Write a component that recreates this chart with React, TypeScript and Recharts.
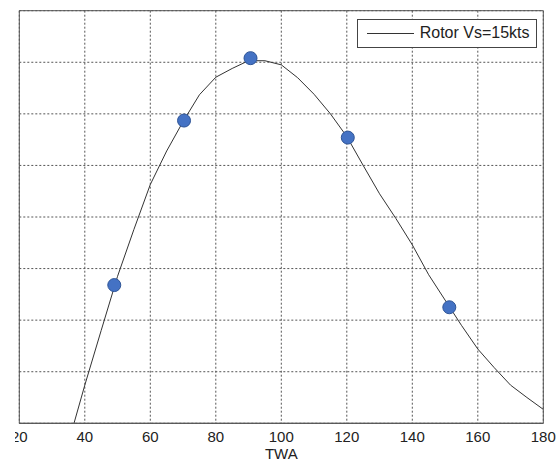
import React from 'react';
import { ComposedChart, Line, Scatter, XAxis, YAxis, CartesianGrid, ReferenceArea } from 'recharts';

// Curve (TWA in degrees, value in grid units)
const curveTWA = [36.7, 40, 45, 50, 55, 60, 65, 70, 75, 80, 85, 90, 95, 100, 105, 110, 115, 120, 125, 130, 135, 140, 145, 150, 155, 160, 165, 170, 175, 180];
const curveValue = [0, 0.74, 1.8, 2.85, 3.76, 4.63, 5.28, 5.85, 6.37, 6.71, 6.88, 7.03, 7.03, 6.95, 6.7, 6.38, 6.0, 5.56, 5.0, 4.45, 3.97, 3.46, 2.88, 2.39, 1.9, 1.44, 1.08, 0.74, 0.5, 0.27];

// Marker points
const markerTWA = [49, 70.3, 90.6, 120.3, 151.3];
const markerValue = [2.68, 5.87, 7.08, 5.54, 2.25];

const xTicks = [20, 40, 60, 80, 100, 120, 140, 160, 180];
const yTicks = [0, 1, 2, 3, 4, 5, 6, 7, 8];

const legendLabel = 'Rotor Vs=15kts';
const xLabel = 'TWA';

const curveData = curveTWA.map((x, i) => ({ x, y: curveValue[i] }));
const markerData = markerTWA.map((x, i) => ({ x, y: markerValue[i] }));

const FONT = '"Liberation Sans", Arial, sans-serif';
const BORDER = '#555';

const MarkerShape = (props: any) => (
  <circle cx={props.cx} cy={props.cy} r={6.5} fill="#4472C4" stroke="#2F5597" strokeWidth={1} />
);

const EmptyTick = () => <g />;

export default function App() {
  return (
    <div
      style={{
        position: 'absolute',
        left: 15,
        top: 0,
        width: 545,
        height: 462,
        overflow: 'hidden',
        fontFamily: FONT,
        background: '#fff',
      }}
    >
      <ComposedChart
        width={545}
        height={462}
        margin={{ top: 10.7, right: 16.7, left: 4.3, bottom: 0 }}
        style={{ fontFamily: FONT }}
      >
        <CartesianGrid stroke="#555" strokeDasharray="2 2" />
        <XAxis
          dataKey="x"
          type="number"
          domain={[20, 180]}
          ticks={xTicks}
          interval={0}
          allowDataOverflow
          height={38.7}
          tickLine={false}
          tickSize={6}
          tickMargin={2}
          axisLine={{ stroke: BORDER }}
          tick={{ fill: '#222', fontSize: 15, fontFamily: FONT }}
          label={{ value: xLabel, position: 'insideBottom', offset: 3, fill: '#222', fontSize: 15, fontFamily: FONT }}
        />
        <YAxis
          type="number"
          domain={[0, 8]}
          ticks={yTicks}
          interval={0}
          allowDataOverflow
          width={0}
          tick={EmptyTick}
          tickLine={false}
          axisLine={{ stroke: BORDER }}
        />
        <ReferenceArea x1={20} x2={180} y1={0} y2={8} fill="none" stroke={BORDER} strokeWidth={1} />
        <Line
          data={curveData}
          dataKey="y"
          type="linear"
          stroke="#333"
          strokeWidth={1}
          dot={false}
          activeDot={false}
          isAnimationActive={false}
        />
        <Scatter
          data={markerData}
          dataKey="y"
          shape={MarkerShape}
          legendType="none"
          isAnimationActive={false}
        />
      </ComposedChart>
      <div
        style={{
          position: 'absolute',
          left: 341.7,
          top: 19,
          width: 180,
          height: 28.7,
          boxSizing: 'border-box',
          border: '1px solid #444',
          background: '#fff',
        }}
      >
        <div
          style={{
            position: 'absolute',
            left: 9,
            top: 13.3,
            width: 47,
            height: 0,
            borderTop: '1px solid #333',
          }}
        />
        <span
          style={{
            position: 'absolute',
            left: 62,
            top: 4,
            fontSize: 16,
            lineHeight: '18px',
            color: '#222',
            fontFamily: FONT,
            whiteSpace: 'nowrap',
          }}
        >
          {legendLabel}
        </span>
      </div>
    </div>
  );
}
